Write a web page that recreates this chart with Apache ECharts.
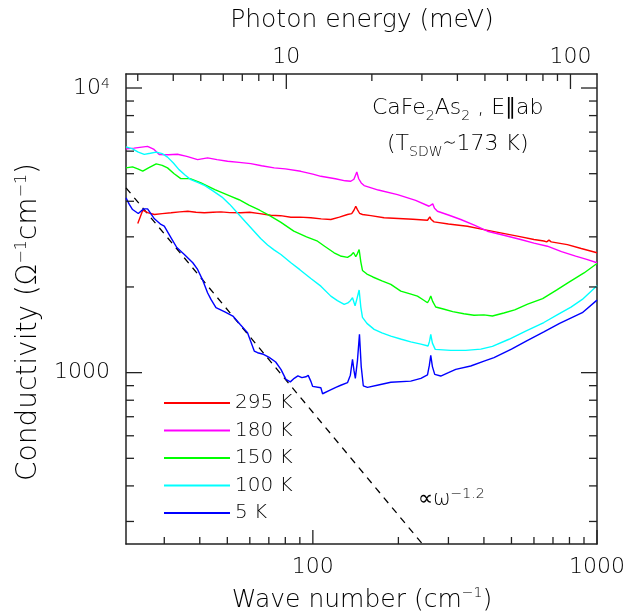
<!DOCTYPE html>
<html><head><meta charset="utf-8">
<script src="https://cdn.jsdelivr.net/npm/echarts@6/dist/echarts.min.js"></script>
<style>html,body{margin:0;padding:0;background:#fff}#c{width:628px;height:614px}</style>
</head><body><div id="c"></div>
<script>
const FONT = 'DejaVu Sans';
const FW = 200;
const X_MIN = 22, X_MAX = 1000, Y_MIN = 250, Y_MAX = 11200;
const CM_PER_MEV = 8.0655;

// [wave number (cm^-1), conductivity (Ohm^-1 cm^-1)]
const series295 = [[24.2,3342],[25.2,3721],[26.2,3650],[27.7,3594],[29.5,3620],[31.7,3644],[34,3670],[36.3,3690],[38.8,3660],[41.5,3644],[44.5,3660],[47.5,3672],[51,3650],[55.8,3644],[60,3660],[65,3620],[71.1,3573],[77,3560],[83.7,3516],[90,3520],[98.4,3499],[107,3470],[115.7,3451],[124,3520],[132.4,3594],[137,3620],[139.5,3720],[141.6,3842],[143.5,3740],[146,3630],[149.5,3594],[160,3560],[178.1,3499],[200,3480],[225,3460],[253.2,3431],[256,3480],[258,3527],[261,3450],[267,3387],[300,3330],[349.9,3269],[400,3180],[458,3099],[530,3010],[600,2936],[650,2900],[665,2880],[677.6,2920],[690,2880],[786.5,2818],[880,2730],[1000,2637]];
const series180 = [[22,6109],[23.5,6150],[25,6200],[26.2,6237],[27.5,6100],[28.8,5834],[31,5830],[33.4,5850],[36,5750],[39.3,5603],[42.6,5681],[46,5600],[50.1,5527],[55,5480],[60.5,5425],[66,5330],[73.1,5240],[80,5200],[90.7,5097],[100,4980],[106.7,4895],[120,4800],[130,4720],[136,4702],[139.5,4780],[142.8,5073],[145,4800],[148,4640],[151.5,4542],[170,4380],[198.6,4223],[230,4030],[256.4,3842],[260,3870],[264.2,3917],[268,3780],[274.5,3690],[300,3580],[331.5,3451],[370,3300],[411.5,3140],[470,3040],[538.6,2936],[600,2850],[668.8,2781],[750,2660],[841,2566],[920,2500],[1000,2432]];
const series150 = [[22,5240],[23.2,5283],[24.2,5200],[25.2,5106],[26.5,5250],[28.1,5413],[29.5,5350],[30.8,5240],[32.5,5000],[34.3,4806],[37,4806],[40.4,4642],[45.2,4398],[51.5,4165],[55,4050],[59.6,3879],[65,3720],[70,3573],[77,3380],[85.7,3140],[95,3000],[103.9,2896],[110,2780],[118.8,2637],[125,2570],[132.4,2540],[136,2580],[139,2643],[141.6,2553],[143.5,2620],[145.5,2708],[147.5,2450],[149.5,2286],[155,2220],[162.6,2168],[175,2100],[188.1,2041],[203.9,1933],[220,1890],[233.4,1857],[245,1800],[253.2,1760],[256.5,1800],[260,1860],[264,1780],[270.7,1701],[290,1670],[310.6,1638],[340,1610],[369.1,1590],[400,1595],[428.4,1581],[470,1620],[513.3,1661],[570,1740],[643.8,1820],[720,1950],[794.6,2075],[900,2240],[1000,2418]];
const series100 = [[22,6209],[23.2,6109],[24.3,5950],[25.5,5848],[26.8,5900],[28.1,5953],[29.5,5880],[30.8,5717],[32.3,5450],[33.8,5168],[35.5,4950],[37.2,4767],[39.5,4650],[41.7,4542],[44.5,4350],[47.9,4139],[51,3900],[54.5,3622],[58,3380],[62.2,3133],[65.5,2960],[69.3,2808],[73,2700],[77.2,2601],[83.7,2432],[90,2300],[98.4,2142],[106.7,2013],[115.7,1857],[122,1790],[128.9,1736],[132.8,1757],[135.5,1790],[137.9,1833],[140.8,1716],[143,1820],[145.5,1952],[147.5,1700],[149.5,1563],[155,1490],[164.3,1419],[175,1380],[188.1,1344],[205,1310],[221.1,1283],[240,1260],[254.3,1240],[257.5,1290],[260,1363],[263.5,1270],[269.6,1207],[305.6,1197],[345.1,1197],[390,1210],[428.4,1237],[490,1310],[561,1400],[650,1500],[734.5,1608],[810,1700],[887.7,1808],[1000,2020]];
const series5 = [[22,4111],[22.6,3900],[23.2,3741],[24.3,3622],[25.4,3762],[26.2,3762],[27.7,3470],[29.2,3315],[30,3269],[31.7,2977],[33.2,2752],[35.3,2601],[37.8,2432],[39.3,2304],[41,2109],[42.6,1908],[43.8,1808],[45.6,1691],[49,1634],[52.3,1581],[55.5,1477],[58.9,1382],[62.2,1191],[63.9,1175],[67,1160],[70.2,1132],[74,1090],[77.2,1027],[80.4,947],[83.3,928],[86,955],[88.6,974],[91.5,960],[94.5,967],[96.3,978],[98.5,930],[99.8,895],[106.7,885],[108.2,843],[114,865],[120.5,888],[125.4,903],[132.4,922],[135.5,980],[137.9,1114],[139.5,1020],[141.1,955],[143.5,1100],[145.9,1363],[148,1050],[150.5,899],[155.7,888],[170,905],[188.1,925],[221.1,934],[240,955],[253.2,982],[257,1060],[260,1150],[263.5,1050],[268.5,986],[281.9,973],[300,1000],[318.3,1027],[359.4,1055],[400.4,1098],[434,1129],[500,1210],[565.6,1293],[650,1390],[738.7,1489],[887.7,1624],[1000,1798]];
const powerLaw = [[22,4460],[243,250]];

const legendNames = ['295 K','180 K','150 K','100 K','5 K'];
const seriesData = [series295, series180, series150, series100, series5];
const seriesColors = ['#ff0000','#ff00ff','#00ff00','#00ffff','#0000ff'];

const xMajorTicks = [100, 1000];
const xMinorTicks = [30,40,50,60,70,80,90,200,300,400,500,600,700,800,900];
const yMajorTicks = [1000, 10000];
const yMinorTicks = [300,400,500,600,700,800,900,2000,3000,4000,5000,6000,7000,8000,9000];
const topMajorTicks = [10, 100];
const topMinorTicks = [3,4,5,6,7,8,9,20,30,40,50,60,70,80,90];

const isPow10 = v => { const l = Math.log10(v); return Math.abs(l - Math.round(l)) < 1e-6; };

const tickData = [];
xMajorTicks.forEach(v => tickData.push([v, Y_MIN, 0, 1]));
xMinorTicks.forEach(v => tickData.push([v, Y_MIN, 0, 0]));
yMajorTicks.forEach(v => tickData.push([X_MIN, v, 1, 1]));
yMinorTicks.forEach(v => tickData.push([X_MIN, v, 1, 0]));
const topTickData = [];
topMajorTicks.forEach(v => topTickData.push([v, Y_MIN, 2, 1]));
topMinorTicks.forEach(v => topTickData.push([v, Y_MIN, 2, 0]));

const TICK_STYLE = {stroke: '#222', lineWidth: 1.3};
function renderTicks(params, api) {
  const cs = params.coordSys;
  const p = api.coord([api.value(0), api.value(1)]);
  const kind = api.value(2), major = api.value(3);
  if (kind === 0) {
    const L = major ? 14 : 7, yb = cs.y + cs.height;
    return {type: 'line', shape: {x1: p[0], y1: yb, x2: p[0], y2: yb - L}, style: TICK_STYLE};
  }
  if (kind === 2) {
    const L = major ? 15 : 7;
    return {type: 'line', shape: {x1: p[0], y1: cs.y, x2: p[0], y2: cs.y + L}, style: TICK_STYLE};
  }
  const L = major ? 16 : 8, xr = cs.x + cs.width;
  return {type: 'group', children: [
    {type: 'line', shape: {x1: cs.x, y1: p[1], x2: cs.x + L, y2: p[1]}, style: TICK_STYLE},
    {type: 'line', shape: {x1: xr, y1: p[1], x2: xr - L, y2: p[1]}, style: TICK_STYLE}
  ]};
}

const AXIS_LINE = {show: true, lineStyle: {color: '#222', width: 1.5}};
const supRich = {sup: {fontFamily: FONT, fontWeight: FW, fontSize: 14, lineHeight: 14, verticalAlign: 'top', fill: '#000', color: '#000'}};
const supRichBig = {sup: {fontFamily: FONT, fontWeight: FW, fontSize: 16, lineHeight: 16, verticalAlign: 'top', fill: '#000', color: '#000'}};
const subRich = {sub: {fontFamily: FONT, fontWeight: FW, fontSize: 14, lineHeight: 14, verticalAlign: 'bottom', fill: '#000', color: '#000'}};
const LABEL = {fontFamily: FONT, fontWeight: FW, fontSize: 22, lineHeight: 22, color: '#000'};

const chart = echarts.init(document.getElementById('c'), null, {renderer: 'canvas'});
chart.setOption({
  backgroundColor: '#fff',
  animation: false,
  grid: {left: 126, right: 31, top: 74, bottom: 70, containLabel: false},
  xAxis: [
    {type: 'log', logBase: 10, min: X_MIN, max: X_MAX, position: 'bottom',
     axisLine: AXIS_LINE, axisTick: {show: false}, splitLine: {show: false}, minorTick: {show: false},
     axisLabel: Object.assign({margin: 12, formatter: v => isPow10(v) ? String(Math.round(v)) : ''}, LABEL)},
    {type: 'log', logBase: 10, min: X_MIN / CM_PER_MEV, max: X_MAX / CM_PER_MEV, position: 'top',
     axisLine: AXIS_LINE, axisTick: {show: false}, splitLine: {show: false},
     axisLabel: Object.assign({margin: 6, formatter: v => isPow10(v) ? String(Math.round(v)) : ''}, LABEL)}
  ],
  yAxis: [
    {type: 'log', logBase: 10, min: Y_MIN, max: Y_MAX, position: 'left',
     axisLine: AXIS_LINE, axisTick: {show: false}, splitLine: {show: false},
     axisLabel: Object.assign({margin: 16,
       formatter: v => { if (!isPow10(v)) return ''; const r = Math.round(v); return r === 10000 ? '10{s|4}' : String(r); },
       rich: {s: {fontFamily: FONT, fontWeight: FW, fontSize: 14, verticalAlign: 'top', lineHeight: 14, color: '#000'}}}, LABEL)},
    {type: 'log', logBase: 10, min: Y_MIN, max: Y_MAX, position: 'right',
     axisLine: AXIS_LINE, axisTick: {show: false}, splitLine: {show: false}, axisLabel: {show: false}}
  ],
  legend: {orient: 'vertical', left: 159, top: 387, itemWidth: 66, itemHeight: 2, itemGap: 5.5,
    icon: 'rect', data: legendNames,
    textStyle: {fontFamily: FONT, fontWeight: FW, fontSize: 20, lineHeight: 22, color: '#000'}},
  series: legendNames.map((n, i) => ({
    name: n, type: 'line', data: seriesData[i], symbol: 'none', clip: true,
    lineStyle: {color: seriesColors[i], width: 1.4}, itemStyle: {color: seriesColors[i]}, z: 3 + i
  })).concat([
    {name: 'power law', type: 'line', data: powerLaw, symbol: 'none', clip: true,
     lineStyle: {color: '#000', width: 1.3, type: [7, 6]}, z: 2},
    {type: 'custom', xAxisIndex: 0, yAxisIndex: 0, data: tickData, renderItem: renderTicks,
     dimensions: ['x', 'y', 'kind', 'major'], encode: {x: 0, y: 1}, silent: true, z: 10},
    {type: 'custom', xAxisIndex: 1, yAxisIndex: 0, data: topTickData, renderItem: renderTicks,
     dimensions: ['x', 'y', 'kind', 'major'], encode: {x: 0, y: 1}, silent: true, z: 10}
  ]),
  graphic: [
    {type: 'text', x: 362, y: 20, style: {text: 'Photon energy (meV)', fontFamily: FONT, fontWeight: FW, fontSize: 25, fill: '#000', align: 'center', verticalAlign: 'middle'}},
    {type: 'text', x: 362, y: 600, style: {text: 'Wave number (cm{sup|−1})', fontFamily: FONT, fontWeight: FW, fontSize: 25, lineHeight: 27, fill: '#000', align: 'center', verticalAlign: 'middle', rich: supRich}},
    {type: 'text', x: 29, y: 322, rotation: Math.PI / 2, style: {text: 'Conductivity (Ω{sup|−1}cm{sup|−1})', fontFamily: FONT, fontWeight: FW, fontSize: 28, lineHeight: 30, fill: '#000', align: 'center', verticalAlign: 'middle', rich: supRichBig}},
    {type: 'text', x: 372, y: 108, style: {text: 'CaFe{sub|2}As{sub|2} , E∥ab', fontFamily: FONT, fontWeight: FW, fontSize: 22, lineHeight: 30, fill: '#000', align: 'left', verticalAlign: 'middle', rich: subRich}},
    {type: 'text', x: 387, y: 144, style: {text: '(T{sub|SDW}∼173 K)', fontFamily: FONT, fontWeight: FW, fontSize: 22, lineHeight: 30, fill: '#000', align: 'left', verticalAlign: 'middle', rich: subRich}},
    {type: 'text', x: 418, y: 500, style: {text: '∝ω{sup|−1.2}', fontFamily: FONT, fontWeight: FW, fontSize: 21, lineHeight: 26, fill: '#000', align: 'left', verticalAlign: 'middle', rich: supRich}}
  ]
});
</script>
</body></html>
